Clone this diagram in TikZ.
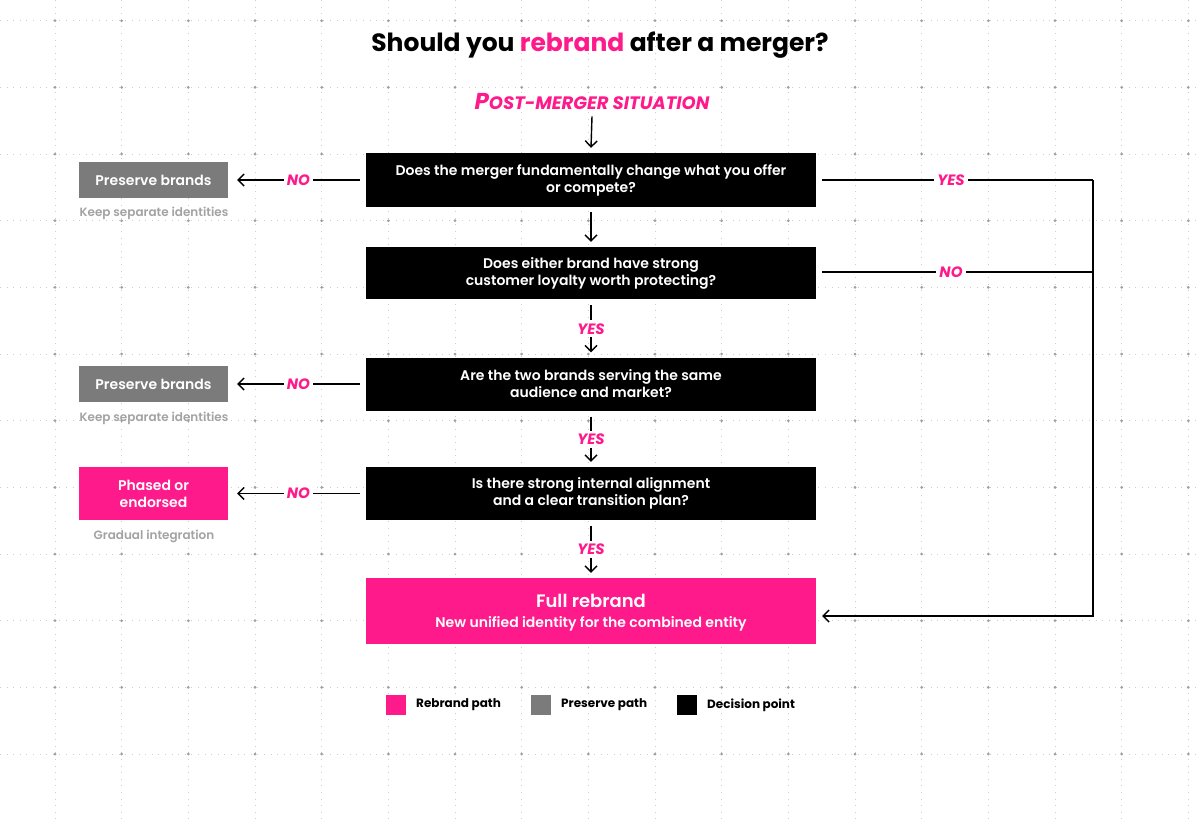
\documentclass[tikz,border=0pt]{standalone}
\usepackage{fontspec}
\setmainfont{Poppins}
\newfontfamily\semib{Poppins SemiBold}
\usetikzlibrary{arrows.meta,calc}
\definecolor{brandpink}{HTML}{FF1A8C}
\definecolor{presgray}{HTML}{7B7B7B}
\definecolor{subgray}{HTML}{A3A3A3}
\definecolor{gridgray}{HTML}{CDCDCD}
\definecolor{griddot}{HTML}{9E9E9E}
\tikzset{
  gridline/.style={gridgray, line width=0.9pt, dash pattern=on 0.9pt off 5.7pt},
  decision/.style={fill=black, text=white, minimum width=450pt, inner sep=0pt, align=center,
    font=\semib\fontsize{14}{17}\selectfont},
  sidebox/.style={minimum width=149pt, inner sep=0pt, align=center, text=white,
    font=\semib\fontsize{14}{17}\selectfont},
  subnote/.style={text=subgray, font=\semib\fontsize{12}{14}\selectfont},
  hand/.style={text=brandpink, font=\bfseries\itshape\fontsize{15}{17}\selectfont, fill=white, inner sep=3pt},
  conn/.style={line width=1.4pt, black},
  arr/.style={conn, -{Straight Barb[length=6pt,width=12pt,line width=1.4pt]}},
  legsq/.style={minimum size=20pt, inner sep=0pt},
  legtxt/.style={anchor=west, inner sep=0pt, font=\bfseries\fontsize{12}{14}\selectfont},
}
\begin{document}
\begin{tikzpicture}[x=1pt,y=-1pt]
\useasboundingbox (0,0) rectangle (1200,820);
\fill[white] (0,0) rectangle (1200,820);
% background grid
\foreach \i in {0,...,17} {\draw[gridline] ({55+\i*66.667},0) -- ({55+\i*66.667},820);}
\foreach \j in {0,...,11} {\draw[gridline] (0,{20.7+\j*66.667}) -- (1200,{20.7+\j*66.667});}
\foreach \i in {0,...,17} {\foreach \j in {0,...,11} {\fill[griddot] ({55+\i*66.667},{20.7+\j*66.667}) circle (1.5pt);}}

% title
\node (title) at (600,45) {\bfseries\fontsize{25}{30}\selectfont Should you \textcolor{brandpink}{rebrand} after a merger?};
\node[hand, fill=none, font=\bfseries\itshape\fontsize{18}{20}\selectfont] (post) at (592,101) {{\fontsize{23}{24}\selectfont P}OST-MERGER SITUATION};

% decision boxes
\node[decision, minimum height=54pt] (d1) at (591,180) {Does the merger fundamentally change what you offer\\or compete?};
\node[decision, minimum height=52pt] (d2) at (591,273) {Does either brand have strong\\customer loyalty worth protecting?};
\node[decision, minimum height=53pt] (d3) at (591,384) {Are the two brands serving the same\\audience and market?};
\node[decision, minimum height=53pt] (d4) at (591,493.5) {Is there strong internal alignment\\and a clear transition plan?};
\node[fill=brandpink, minimum width=450pt, minimum height=66pt, inner sep=0pt] (fin) at (591,611) {};
\node[text=white, inner sep=0pt, font=\semib\fontsize{18}{20}\selectfont] (fint) at (591,601) {Full rebrand};
\node[text=white, inner sep=0pt, font=\semib\fontsize{14}{16}\selectfont] (fins) at (591,624) {New unified identity for the combined entity};

% side outcomes
\node[sidebox, fill=presgray, minimum height=36pt] (g1) at (153.5,180) {Preserve brands};
\node[subnote] (n1) at (154,213) {Keep separate identities};
\node[sidebox, fill=presgray, minimum height=36pt] (g2) at (153.5,384) {Preserve brands};
\node[subnote] (n2) at (154,418) {Keep separate identities};
\node[sidebox, fill=brandpink, minimum height=53pt] (p1) at (153.5,493.5) {Phased or\\endorsed};
\node[subnote] (n3) at (154,536) {Gradual integration};

% vertical flow
\draw[arr] ([yshift=-4pt]post.south) -- ([yshift=5pt]d1.north);
\draw[arr] ([yshift=-5pt]d1.south) -- ([yshift=5pt]d2.north);
\draw[arr] ([yshift=-6pt]d2.south) -- node[hand]{YES} ([yshift=5pt]d3.north);
\draw[arr] ([yshift=-6pt]d3.south) -- node[hand]{YES} ([yshift=5pt]d4.north);
\draw[arr] ([yshift=-6pt]d4.south) -- node[hand]{YES} ([yshift=5pt]fin.north);

% left NO branches
\draw[arr] ([xshift=-6pt]d1.west) -- node[hand]{NO} ($(d1.west -| g1.east)+(9,0)$);
\draw[arr] ([xshift=-6pt]d3.west) -- node[hand]{NO} ($(d3.west -| g2.east)+(9,0)$);
\draw[arr] ([xshift=-6pt]d4.west) -- node[hand]{NO} ($(d4.west -| p1.east)+(9,0)$);

% right branches
\coordinate (rtop) at (1093,180);
\coordinate (rmid) at (1093,272);
\coordinate (rbot) at (1093,616);
\draw[conn] ([xshift=6pt]d1.east) -- (rtop);
\draw[conn] ($(d2.east |- rmid)+(6,0)$) -- (rmid);
\draw[arr] (rtop) -- (rbot) -- ($(fin.east |- rbot)+(6,0)$);
\node[hand] (yes1) at (951,180) {YES};
\node[hand] (no2) at (951,272) {NO};

% legend
\node[legsq, fill=brandpink] (l1) at (395.5,705) {};
\node[legtxt] (t1) at (416,705) {Rebrand path};
\node[legsq, fill=presgray] (l2) at (540.5,705) {};
\node[legtxt] (t2) at (561,705) {Preserve path};
\node[legsq, fill=black] (l3) at (687,705) {};
\node[legtxt] (t3) at (707,705) {Decision point};
\end{tikzpicture}
\end{document}
